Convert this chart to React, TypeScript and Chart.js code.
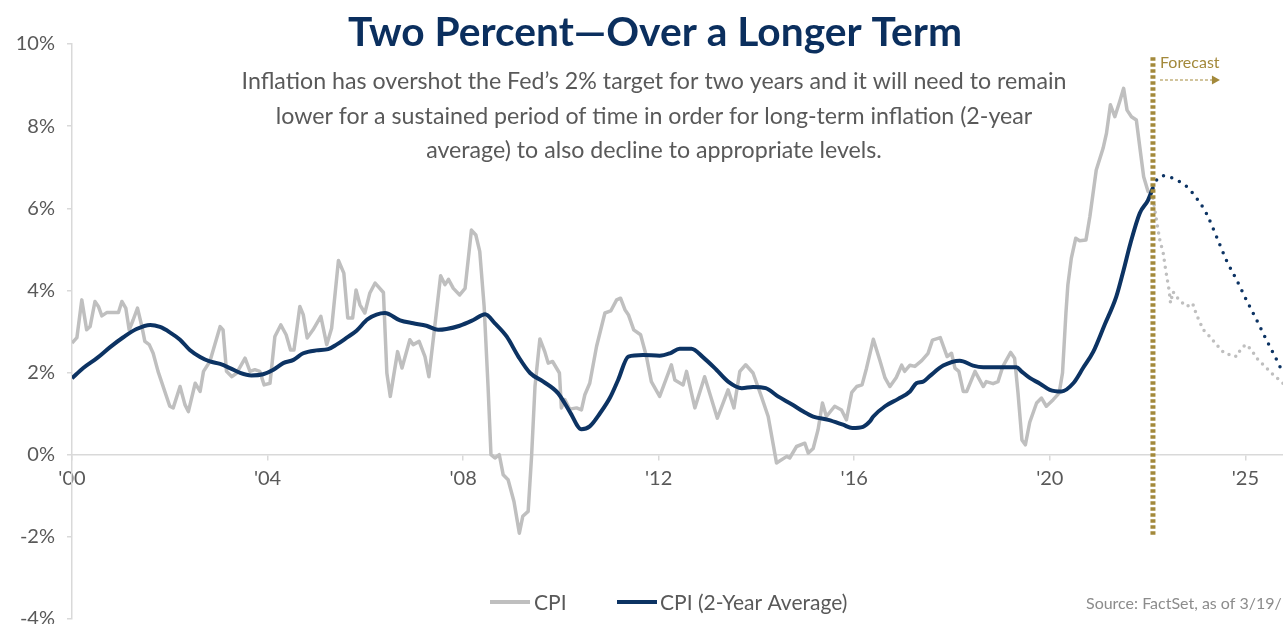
import React, { useEffect, useRef } from 'react';
import { Chart, registerables } from 'chart.js';

Chart.register(...registerables);

const FONT = 'Lato, "Open Sans", sans-serif';
const NAVY = '#0c3363';
const GRAY = '#bfbfbf';
const GOLD = '#a3893b';
const TEXT = '#595959';
const AXIS = '#d9d9d9';

const title = 'Two Percent\u2014Over a Longer Term';
const subtitleLines = [
  'Inflation has overshot the Fed\u2019s 2% target for two years and it will need to remain',
  'lower for a sustained period of time in order for long-term inflation (2-year',
  'average) to also decline to appropriate levels.',
];
const legendLabels = ['CPI', 'CPI (2-Year Average)'];
const sourceText = 'Source: FactSet, as of 3/19/';
const forecastLabel = 'Forecast';

const xTickValues = [2000, 2004, 2008, 2012, 2016, 2020, 2024];
const xTickLabels = ["'00", "'04", "'08", "'12", "'16", "'20", "'25"];
const yTickValues = [-4, -2, 0, 2, 4, 6, 8, 10];
const xMin = 2000;
const xMax = 2024.77;

const cpiDates = [
  2000.0, 2000.1, 2000.2, 2000.3, 2000.37, 2000.47, 2000.54, 2000.61, 2000.71, 2000.95,
  2001.02, 2001.1, 2001.17, 2001.25, 2001.34, 2001.43, 2001.49, 2001.58, 2001.66, 2001.76,
  2002.0, 2002.07, 2002.21, 2002.31, 2002.38, 2002.52, 2002.62, 2002.69, 2002.82, 2003.03,
  2003.09, 2003.16, 2003.27, 2003.37, 2003.54, 2003.64, 2003.74, 2003.84, 2003.93, 2004.05,
  2004.15, 2004.27, 2004.38, 2004.47, 2004.54, 2004.66, 2004.73, 2004.81, 2004.93, 2005.09,
  2005.21, 2005.31, 2005.45, 2005.56, 2005.64, 2005.74, 2005.81, 2005.89, 2005.99, 2006.09,
  2006.2, 2006.37, 2006.44, 2006.51, 2006.66, 2006.75, 2006.91, 2006.98, 2007.1, 2007.22,
  2007.3, 2007.42, 2007.54, 2007.63, 2007.7, 2007.8, 2007.93, 2008.04, 2008.17, 2008.26,
  2008.34, 2008.43, 2008.51, 2008.57, 2008.65, 2008.74, 2008.82, 2008.92, 2009.04, 2009.15,
  2009.22, 2009.33, 2009.4, 2009.47, 2009.57, 2009.67, 2009.74, 2009.83, 2009.97, 2010.01,
  2010.08, 2010.18, 2010.32, 2010.42, 2010.49, 2010.59, 2010.73, 2010.9, 2011.02, 2011.14,
  2011.22, 2011.31, 2011.38, 2011.49, 2011.63, 2011.75, 2011.85, 2012.02, 2012.26, 2012.33,
  2012.5, 2012.57, 2012.74, 2012.94, 2013.2, 2013.42, 2013.54, 2013.66, 2013.78, 2013.93,
  2014.1, 2014.24, 2014.41, 2014.62, 2014.68, 2014.82, 2014.99, 2015.06, 2015.16, 2015.26,
  2015.35, 2015.43, 2015.6, 2015.74, 2015.84, 2015.95, 2016.05, 2016.16, 2016.25, 2016.39,
  2016.52, 2016.63, 2016.73, 2016.86, 2016.97, 2017.03, 2017.14, 2017.24, 2017.38, 2017.51,
  2017.6, 2017.76, 2017.9, 2017.99, 2018.06, 2018.14, 2018.23, 2018.3, 2018.47, 2018.64,
  2018.7, 2018.84, 2018.94, 2019.04, 2019.2, 2019.28, 2019.35, 2019.43, 2019.5, 2019.59,
  2019.73, 2019.83, 2019.93, 2020.07, 2020.19, 2020.26, 2020.33, 2020.37, 2020.44, 2020.53,
  2020.61, 2020.74, 2020.82, 2020.95, 2021.09, 2021.16, 2021.24, 2021.33, 2021.43, 2021.51,
  2021.58, 2021.67, 2021.77, 2021.84, 2021.92, 2022.01, 2022.09,
];
const cpiValues = [
  2.72, 2.85, 3.77, 3.04, 3.12, 3.73, 3.61, 3.38, 3.46, 3.46,
  3.73, 3.57, 3.04, 3.28, 3.57, 3.12, 2.76, 2.68, 2.47, 2.03,
  1.18, 1.14, 1.66, 1.22, 1.05, 1.74, 1.54, 2.03, 2.27, 3.12,
  3.04, 2.03, 1.9, 1.99, 2.35, 2.03, 2.07, 2.03, 1.7, 1.74,
  2.88, 3.16, 2.92, 2.55, 2.55, 3.61, 3.41, 2.84, 3.04, 3.37,
  2.68, 3.08, 4.73, 4.42, 3.33, 3.33, 4.01, 3.65, 3.45, 3.93,
  4.18, 3.95, 1.99, 1.42, 2.51, 2.11, 2.8, 2.68, 2.76, 2.39,
  1.9, 3.12, 4.36, 4.14, 4.27, 4.05, 3.89, 4.05, 5.47, 5.35,
  4.95, 3.61, 1.66, 0.0, -0.08, 0.0, -0.49, -0.61, -1.14, -1.91,
  -1.5, -1.38, -0.04, 1.66, 2.82, 2.51, 2.23, 2.27, 1.99, 1.14,
  1.34, 1.11, 1.14, 1.09, 1.46, 1.74, 2.64, 3.45, 3.5, 3.77,
  3.81, 3.53, 3.41, 3.04, 2.92, 2.39, 1.78, 1.42, 2.19, 1.82,
  1.7, 2.03, 1.14, 1.9, 0.89, 1.58, 1.14, 2.03, 2.19, 1.99,
  1.42, 0.93, -0.2, -0.04, -0.08, 0.2, 0.28, 0.04, 0.15, 0.61,
  1.26, 0.93, 1.18, 1.09, 0.85, 1.52, 1.66, 1.7, 2.1, 2.81,
  2.31, 1.87, 1.66, 1.88, 2.18, 2.03, 2.18, 2.15, 2.29, 2.47,
  2.79, 2.85, 2.39, 2.47, 2.11, 2.03, 1.54, 1.54, 2.03, 1.66,
  1.78, 1.73, 1.78, 2.15, 2.49, 2.35, 1.5, 0.36, 0.24, 0.79,
  1.26, 1.38, 1.18, 1.34, 1.5, 1.99, 3.45, 4.14, 4.78, 5.27,
  5.21, 5.23, 5.8, 6.93, 7.46, 7.83, 8.52, 8.23, 8.6, 8.92,
  8.39, 8.23, 8.15, 7.5, 6.77, 6.41, 6.41,
];

const avgDates = [
  2000.0, 2000.23, 2000.51, 2000.78, 2001.05, 2001.32, 2001.6, 2001.8, 2002.0, 2002.21,
  2002.41, 2002.62, 2002.82, 2003.03, 2003.23, 2003.44, 2003.67, 2003.91, 2004.12, 2004.32,
  2004.53, 2004.73, 2005.0, 2005.24, 2005.41, 2005.62, 2005.82, 2006.05, 2006.4, 2006.71,
  2006.98, 2007.25, 2007.49, 2007.66, 2007.93, 2008.21, 2008.45, 2008.65, 2008.89, 2009.13,
  2009.37, 2009.64, 2009.94, 2010.18, 2010.42, 2010.59, 2010.8, 2011.0, 2011.17, 2011.38,
  2011.68, 2012.02, 2012.23, 2012.43, 2012.67, 2012.91, 2013.18, 2013.42, 2013.7, 2013.93,
  2014.19, 2014.44, 2014.72, 2014.96, 2015.16, 2015.47, 2015.77, 2015.96, 2016.18, 2016.32,
  2016.39, 2016.63, 2016.9, 2017.14, 2017.27, 2017.41, 2017.55, 2017.82, 2018.16, 2018.43,
  2018.64, 2019.32, 2019.42, 2019.59, 2019.8, 2020.0, 2020.24, 2020.48, 2020.68, 2020.89,
  2021.12, 2021.36, 2021.51, 2021.65, 2021.84, 2022.01, 2022.11,
];
const avgValues = [
  1.86, 2.11, 2.35, 2.62, 2.86, 3.06, 3.16, 3.11, 2.98, 2.8,
  2.55, 2.38, 2.27, 2.21, 2.11, 1.99, 1.93, 1.96, 2.07, 2.23,
  2.31, 2.47, 2.54, 2.57, 2.68, 2.85, 3.02, 3.3, 3.45, 3.27,
  3.2, 3.14, 3.04, 3.06, 3.14, 3.28, 3.42, 3.2, 2.88, 2.39,
  1.99, 1.78, 1.5, 1.05, 0.62, 0.69, 1.01, 1.38, 1.82, 2.39,
  2.43, 2.41, 2.47, 2.58, 2.58, 2.37, 2.07, 1.78, 1.62, 1.65,
  1.62, 1.42, 1.23, 1.05, 0.93, 0.85, 0.73, 0.65, 0.68, 0.81,
  0.93, 1.18, 1.36, 1.54, 1.74, 1.78, 1.92, 2.17, 2.29, 2.17,
  2.13, 2.13, 2.03, 1.87, 1.73, 1.58, 1.54, 1.74, 2.11, 2.51,
  3.16, 3.85, 4.5, 5.15, 5.88, 6.2, 6.5,
];

const cpiForecastDates = [
  2022.09, 2022.18, 2022.25, 2022.32, 2022.37, 2022.44, 2022.47, 2022.52, 2022.64, 2022.8,
  2022.92, 2023.0, 2023.14, 2023.27, 2023.41, 2023.54, 2023.68, 2023.82, 2023.92, 2024.02,
  2024.12, 2024.26, 2024.4, 2024.57, 2024.77,
];
const cpiForecastValues = [
  6.41, 5.72, 5.23, 4.91, 4.5, 4.01, 3.69, 3.97, 3.77, 3.61,
  3.69, 3.41, 3.04, 2.88, 2.68, 2.51, 2.43, 2.39, 2.6, 2.68,
  2.55, 2.31, 2.15, 1.95, 1.74,
];

const avgForecastDates = [
  2022.11, 2022.21, 2022.35, 2022.59, 2022.8, 2023.0, 2023.2, 2023.41, 2023.61, 2023.82,
  2024.02, 2024.23, 2024.43, 2024.64, 2024.77,
];
const avgForecastValues = [
  6.5, 6.73, 6.79, 6.69, 6.53, 6.25, 5.88, 5.31, 4.74, 4.26,
  3.77, 3.28, 2.8, 2.31, 1.99,
];

const forecastStart = 2022.11;
const forecastLineTop = 9.68;
const forecastLineBottom = -1.95;

const toXY = (xs: number[], ys: number[]) => xs.map((x, i) => ({ x, y: ys[i] }));

export default function App() {
  const ref = useRef<HTMLCanvasElement>(null);

  useEffect(() => {
    const canvas = ref.current;
    if (!canvas) return;

    const overlay = {
      id: 'overlay',
      afterDraw(chart: any) {
        const ctx: CanvasRenderingContext2D = chart.ctx;
        const xs = chart.scales.x;
        ctx.save();
        // title
        ctx.textAlign = 'center';
        ctx.textBaseline = 'alphabetic';
        ctx.fillStyle = '#0b2f5e';
        ctx.font = `bold 40.7px ${FONT}`;
        ctx.fillText(title, 655, 46);
        // subtitle
        ctx.fillStyle = TEXT;
        ctx.font = `23.2px ${FONT}`;
        subtitleLines.forEach((line, i) => ctx.fillText(line, 654, 89 + i * 34.5));
        // forecast label + arrow
        const fx = xs.getPixelForValue(forecastStart);
        ctx.textAlign = 'left';
        ctx.fillStyle = GOLD;
        ctx.font = `16px ${FONT}`;
        ctx.fillText(forecastLabel, fx + 7, 68);
        ctx.strokeStyle = GOLD;
        ctx.lineWidth = 1.2;
        ctx.setLineDash([3, 2]);
        ctx.beginPath();
        ctx.moveTo(fx + 7, 80);
        ctx.lineTo(fx + 60, 80);
        ctx.stroke();
        ctx.setLineDash([]);
        ctx.beginPath();
        ctx.moveTo(fx + 59, 75.5);
        ctx.lineTo(fx + 67, 80);
        ctx.lineTo(fx + 59, 84.5);
        ctx.closePath();
        ctx.fill();
        // legend
        const ly = 602;
        ctx.lineWidth = 4;
        ctx.strokeStyle = GRAY;
        ctx.beginPath();
        ctx.moveTo(490, ly);
        ctx.lineTo(530, ly);
        ctx.stroke();
        ctx.strokeStyle = NAVY;
        ctx.beginPath();
        ctx.moveTo(617, ly);
        ctx.lineTo(657, ly);
        ctx.stroke();
        ctx.fillStyle = TEXT;
        ctx.font = `21px ${FONT}`;
        ctx.fillText(legendLabels[0], 534, 610);
        ctx.fillText(legendLabels[1], 660, 610);
        // source
        ctx.textAlign = 'left';
        ctx.fillStyle = '#8c8c8c';
        ctx.font = `16px ${FONT}`;
        ctx.fillText(sourceText, 1086, 609);
        ctx.restore();
      },
    };

    const chart = new Chart(canvas, {
      type: 'line',
      data: {
        datasets: [
          {
            label: 'Forecast start',
            data: [
              { x: forecastStart, y: forecastLineTop },
              { x: forecastStart, y: forecastLineBottom },
            ],
            borderColor: GOLD,
            borderWidth: 5,
            borderDash: [3.5, 2.5],
            order: 0,
          },
          {
            label: legendLabels[1],
            data: toXY(avgDates, avgValues),
            borderColor: NAVY,
            borderWidth: 4,
            cubicInterpolationMode: 'monotone',
            order: 1,
          },
          {
            label: legendLabels[1] + ' forecast',
            data: toXY(avgForecastDates, avgForecastValues),
            borderColor: NAVY,
            borderWidth: 3.5,
            borderDash: [0, 8.5],
            borderCapStyle: 'round',
            cubicInterpolationMode: 'monotone',
            order: 1,
          },
          {
            label: legendLabels[0],
            data: toXY(cpiDates, cpiValues),
            borderColor: GRAY,
            borderWidth: 3.5,
            borderJoinStyle: 'round',
            order: 2,
          },
          {
            label: legendLabels[0] + ' forecast',
            data: toXY(cpiForecastDates, cpiForecastValues),
            borderColor: GRAY,
            borderWidth: 3.5,
            borderDash: [0, 7],
            borderCapStyle: 'round',
            order: 2,
          },
        ],
      } as any,
      options: {
        animation: false,
        responsive: false,
        maintainAspectRatio: false,
        parsing: false as any,
        elements: { point: { radius: 0, hoverRadius: 0 }, line: { tension: 0 } },
        layout: { padding: { top: 44, left: 0, right: 0, bottom: 5 } },
        plugins: { legend: { display: false }, tooltip: { enabled: false }, title: { display: false } },
        events: [],
        scales: {
          x: {
            type: 'linear',
            min: xMin,
            max: xMax,
            position: { y: 0 } as any,
            afterBuildTicks: (s: any) => {
              s.ticks = xTickValues.map((v) => ({ value: v }));
            },
            afterFit: (s: any) => {
              s.paddingLeft = 0;
              s.paddingRight = 0;
            },
            ticks: {
              autoSkip: false,
              maxRotation: 0,
              padding: 7,
              color: TEXT,
              font: { family: FONT, size: 20 },
              callback: (v: any) => {
                const i = xTickValues.indexOf(Number(v));
                return i >= 0 ? xTickLabels[i] : '';
              },
            },
            grid: { drawOnChartArea: false, drawTicks: true, tickLength: 5, color: AXIS, lineWidth: 1.5 },
            border: { color: AXIS, width: 1.5 },
          },
          y: {
            type: 'linear',
            position: 'left',
            min: -4,
            max: 10,
            afterBuildTicks: (s: any) => {
              s.ticks = yTickValues.map((v) => ({ value: v }));
            },
            afterFit: (s: any) => {
              s.width = 72;
              s.paddingTop = 0;
              s.paddingBottom = 0;
            },
            ticks: {
              padding: 12,
              color: TEXT,
              font: { family: FONT, size: 20 },
              callback: (v: any) => `${v}%`,
            },
            grid: { drawOnChartArea: false, drawTicks: true, tickLength: 5, color: AXIS, lineWidth: 1.5 },
            border: { color: AXIS, width: 1.5 },
          },
        },
      } as any,
      plugins: [overlay],
    });

    return () => chart.destroy();
  }, []);

  return (
    <div style={{ position: 'fixed', left: 0, top: 0, width: 1283, height: 624, overflow: 'hidden', background: '#fff' }}>
      <canvas ref={ref} width={1283} height={624} style={{ display: 'block', width: 1283, height: 624 }} />
    </div>
  );
}
